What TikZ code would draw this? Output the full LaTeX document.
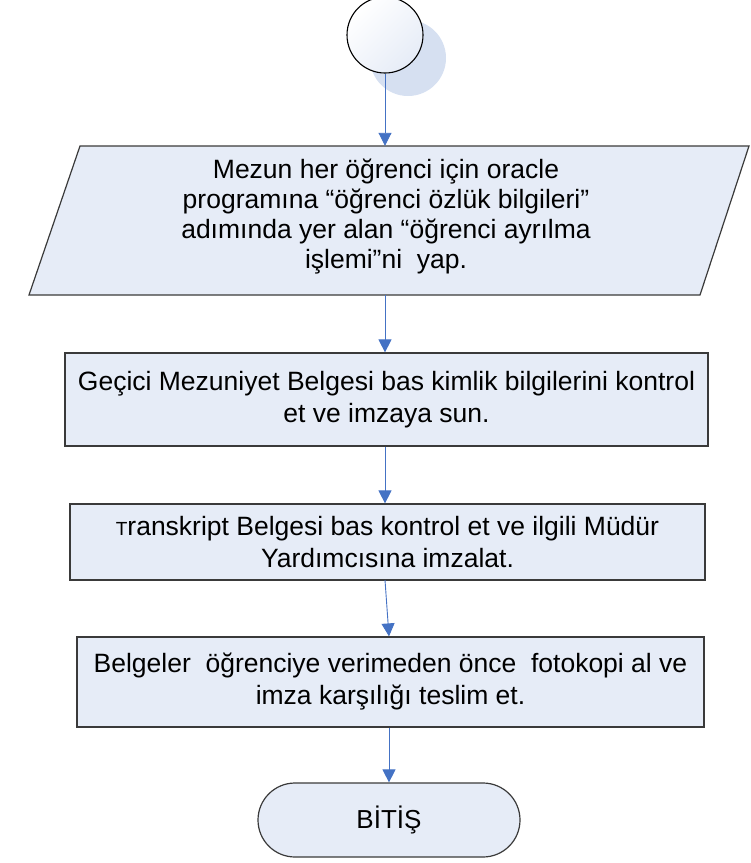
\documentclass[tikz,border=0pt]{standalone}
\usepackage{fontspec}
\setmainfont{Liberation Sans}
\usetikzlibrary{arrows.meta,shapes.misc}
\definecolor{boxfill}{HTML}{E6ECF7}
\definecolor{arrowblue}{HTML}{4472C4}
\definecolor{shadowblue}{HTML}{D6E0F1}
\definecolor{edgegray}{HTML}{3A3A3A}
\tikzset{
  flow/.style={draw=arrowblue, line width=0.9pt, -{Triangle[length=13pt,width=13pt]}, color=arrowblue},
  procbox/.style={draw=edgegray, line width=1.2pt, fill=boxfill, rectangle, inner sep=0pt,
    font=\fontsize{26.5}{32}\selectfont, align=center},
  txt/.style={font=\fontsize{26.5}{30}\selectfont, align=center, inner sep=0pt},
}
\begin{document}
\begin{tikzpicture}[x=1pt,y=-1pt]
\useasboundingbox (0,0) rectangle (751,863);
% start circle with shadow
\fill[shadowblue] (408,58) circle (38);
\node[circle, draw=black, line width=1.1pt, minimum size=76pt, inner sep=0pt,
  left color=white, right color=boxfill, shading angle=45] (start) at (385,35) {};
% parallelogram
\draw[draw=edgegray, line width=1.2pt, fill=boxfill] (80,146) -- (749,146) -- (700,295) -- (29,295) -- cycle;
\node[minimum width=620pt, minimum height=149pt, inner sep=0pt] (para) at (385,220.5) {};
\node[txt] (paratext) at (386,217) {Mezun her öğrenci için oracle\\programına “öğrenci özlük bilgileri”\\adımında yer alan “öğrenci ayrılma\\işlemi”ni\ \ yap.};
% rectangles
\node[procbox, minimum width=643pt, minimum height=93pt] (b1) at (386.5,399.5) {Geçici Mezuniyet Belgesi bas kimlik bilgilerini kontrol\\et ve imzaya sun.};
\node[procbox, minimum width=635pt, minimum height=76pt] (b2) at (387.5,542) {{\fontsize{19}{32}\selectfont T}ranskript Belgesi bas kontrol et ve ilgili Müdür\\Yardımcısına imzalat.};
\node[procbox, minimum width=627pt, minimum height=90pt] (b3) at (390.5,682) {Belgeler\ \ öğrenciye verimeden önce\ \ fotokopi al ve\\imza karşılığı teslim et.};
% terminal
\node[rounded rectangle, draw=edgegray, line width=1.2pt, fill=boxfill, minimum width=262pt,
  minimum height=74pt, inner sep=0pt, font=\fontsize{26}{30}\selectfont] (end) at (389,820) {BİTİŞ};
% connectors
\draw[flow] (start.south) -- (para.north);
\draw[flow] (para.south) -- (b1.north -| para.south);
\draw[flow] (b1.south -| para.south) -- (b2.north -| para.south);
\coordinate (b2out) at (385,580);
\draw[flow] (b2out) -- (b3.north -| end.north);
\draw[flow] (b3.south -| end.north) -- (end.north);
\end{tikzpicture}
\end{document}
